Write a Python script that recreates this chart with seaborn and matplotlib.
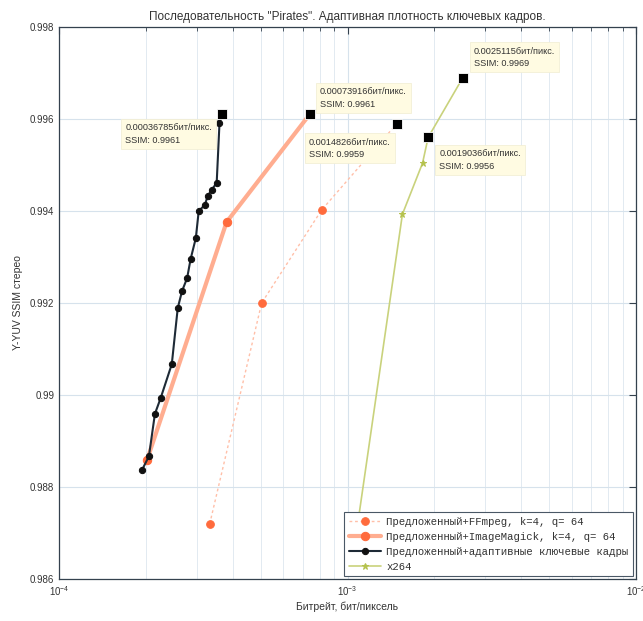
import matplotlib
matplotlib.use("Agg")
import matplotlib.pyplot as plt
import matplotlib.ticker as mticker
import pandas as pd
import seaborn as sns

title = 'Последовательность "Pirates". Адаптивная плотность ключевых кадров.'
x_label = "Битрейт, бит/пиксель"
y_label = "Y-YUV SSIM стерео"

series_names = [
    "Предложенный+FFmpeg, k=4, q= 64",
    "Предложенный+ImageMagick, k=4, q= 64",
    "Предложенный+адаптивные ключевые кадры",
    "x264",
]

ffmpeg_rate = [3.33e-4, 5.04e-4, 8.13e-4, 0.0014826]
ffmpeg_ssim = [0.9872, 0.9920, 0.99402, 0.9959]

imagick_rate = [2.02e-4, 3.81e-4, 0.00073916]
imagick_ssim = [0.98859, 0.99376, 0.9961]

adaptive_rate = [1.94e-4, 2.05e-4, 2.15e-4, 2.25e-4, 2.46e-4, 2.58e-4, 2.67e-4,
                 2.78e-4, 2.86e-4, 2.98e-4, 3.05e-4, 3.20e-4, 3.28e-4, 3.38e-4,
                 3.52e-4, 3.60e-4, 0.00036785]
adaptive_ssim = [0.98837, 0.98867, 0.98959, 0.98993, 0.99067, 0.99189, 0.99226,
                 0.99254, 0.99296, 0.99341, 0.99400, 0.99413, 0.99433, 0.99446,
                 0.99461, 0.99591, 0.9961]

x264_rate = [1.04e-3, 1.55e-3, 1.82e-3, 0.0019036, 0.0025115]
x264_ssim = [0.9864, 0.99393, 0.99504, 0.9956, 0.9969]

# data tips: (rate, ssim, text offset in pixels)
tip_rate = [0.00036785, 0.00073916, 0.0014826, 0.0019036, 0.0025115]
tip_ssim = [0.9961, 0.9961, 0.9959, 0.9956, 0.9969]
tip_offset = [(-97, -9), (10, 27), (-88, -14), (11, -12), (11, 31)]

y_ticks = [0.986, 0.988, 0.99, 0.992, 0.994, 0.996, 0.998]

sns.set_style("white")
plt.rcParams["font.family"] = ["Liberation Sans", "DejaVu Sans"]
plt.rcParams["mathtext.fontset"] = "dejavusans"

fig = plt.figure(figsize=(6.43, 6.21), dpi=100)
ax = fig.add_axes([59 / 643, 1 - 579 / 621, (636 - 59) / 643, (579 - 27) / 621])

styles = [
    dict(rate=ffmpeg_rate, ssim=ffmpeg_ssim, color="#ffbfa8", lw=1.0, ls=(0, (2, 2)),
         marker="o", mfc="#ff6b3d", ms=5.5, zorder=3),
    dict(rate=imagick_rate, ssim=imagick_ssim, color="#ffad90", lw=3.0, ls="-",
         marker="o", mfc="#ff6b3d", ms=6, zorder=3),
    dict(rate=adaptive_rate, ssim=adaptive_ssim, color="#1e2a36", lw=1.5, ls="-",
         marker="o", mfc="#111111", ms=4.5, zorder=4),
    dict(rate=x264_rate, ssim=x264_ssim, color="#c9d27c", lw=1.2, ls="-",
         marker="*", mfc="#b5c24e", ms=5, zorder=3),
]

for name, st in zip(series_names, styles):
    df = pd.DataFrame({"rate": st["rate"], "ssim": st["ssim"]})
    sns.lineplot(data=df, x="rate", y="ssim", ax=ax, sort=False, estimator=None,
                 color=st["color"], lw=st["lw"], linestyle=st["ls"],
                 marker=st["marker"], markerfacecolor=st["mfc"],
                 markeredgecolor=st["mfc"], markersize=st["ms"],
                 label=name, zorder=st["zorder"])

# data tip markers and boxes
tips = pd.DataFrame({"rate": tip_rate, "ssim": tip_ssim})
sns.scatterplot(data=tips, x="rate", y="ssim", ax=ax, marker="s", s=42,
                color="black", edgecolor="white", linewidth=0.6, zorder=6,
                legend=False)
for r, s, off in zip(tip_rate, tip_ssim, tip_offset):
    ax.annotate(f"{r}бит/пикс.\nSSIM: {s}", xy=(r, s), xytext=off,
                textcoords="offset pixels", ha="left", va="top",
                fontsize=6.6, color="#333333", linespacing=1.5, zorder=7,
                bbox=dict(boxstyle="square,pad=0.45", fc="#fffbe2",
                          ec="#f3efd6", lw=0.6))

ax.set_xscale("log")
ax.set_xlim(1e-4, 1e-2)
ax.set_ylim(0.986, 0.998)
ax.set_yticks(y_ticks)
ax.yaxis.set_major_formatter(mticker.FuncFormatter(lambda v, p: f"{v:g}"))
ax.xaxis.set_major_locator(mticker.LogLocator(base=10, numticks=5))
ax.xaxis.set_minor_locator(mticker.LogLocator(base=10, subs=range(2, 10), numticks=20))

ax.grid(True, which="major", color="#d6e2ec", lw=0.8)
ax.grid(True, which="minor", axis="x", color="#e2eaf1", lw=0.7)
ax.set_axisbelow(True)

for sp in ax.spines.values():
    sp.set_color("#34414e")
    sp.set_linewidth(0.9)
ax.tick_params(which="both", direction="in", top=True, right=True,
               colors="#34414e", labelcolor="#333333", labelsize=7)
ax.tick_params(which="major", length=5)
ax.tick_params(which="minor", length=3)

ax.set_title(title, fontsize=8.5, color="#333333", pad=5)
ax.set_xlabel(x_label, fontsize=7.5, color="#333333", labelpad=3)
ax.set_ylabel(y_label, fontsize=7.5, color="#333333", labelpad=5)

leg = ax.legend(loc="lower right", prop={"family": "Liberation Mono", "size": 7.7},
                frameon=True, fancybox=False, framealpha=1, edgecolor="#4a5866",
                borderaxespad=0.25, handlelength=3.0, handletextpad=0.5,
                labelspacing=0.45, borderpad=0.45)
leg.set_zorder(10)
leg.get_frame().set_linewidth(0.8)
for t in leg.get_texts():
    t.set_color("#333333")

fig.savefig("out.png", dpi=100, facecolor="white")
